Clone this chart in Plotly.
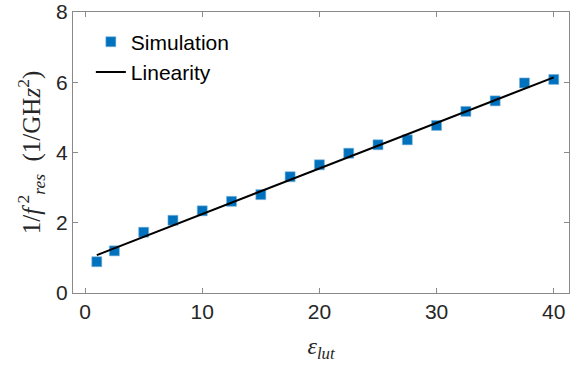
import plotly.graph_objects as go

# Simulated resonance data: 1/f_res^2 versus epsilon_lut
eps_lut = [1, 2.5, 5, 7.5, 10, 12.5, 15, 17.5, 20, 22.5, 25, 27.5, 30, 32.5, 35, 37.5, 40]
inv_f2 = [0.89, 1.20, 1.73, 2.07, 2.34, 2.61, 2.80, 3.31, 3.65, 3.98, 4.22, 4.36, 4.77, 5.17, 5.47, 5.98, 6.08]

# Linear trend line end points
lin_x = [1, 40]
lin_y = [1.08, 6.14]

x_ticks = [0, 10, 20, 30, 40]
y_ticks = [0, 2, 4, 6, 8]

blue = "#0072BD"
axis_gray = "#8a8a8a"
label_dark = "#262626"
sans = "Liberation Sans, Arial, sans-serif"
serif = "Liberation Serif, Times New Roman, serif"

fig = go.Figure()
fig.add_trace(go.Scatter(
    x=eps_lut, y=inv_f2, mode="markers", name="Simulation",
    marker=dict(symbol="square", size=10, color=blue,
                line=dict(width=0.6, color="#7fb6dc")),
))
fig.add_trace(go.Scatter(
    x=lin_x, y=lin_y, mode="lines", name="Linearity",
    line=dict(color="black", width=2),
))

axis_common = dict(
    showline=True, linecolor=axis_gray, linewidth=1.2, mirror="ticks",
    ticks="inside", ticklen=5, tickcolor=axis_gray, tickwidth=1,
    showgrid=False, zeroline=False,
    tickfont=dict(family=sans, size=21, color=label_dark),
)

fig.update_layout(
    width=585, height=370,
    margin=dict(l=73, r=16, t=12, b=77, autoexpand=False),
    paper_bgcolor="white", plot_bgcolor="white",
    xaxis=dict(range=[-1.03, 41.3], tickvals=x_ticks,
               title=dict(text="<i>ε</i><sub><i>lut</i></sub>",
                          font=dict(family=serif, size=24, color=label_dark),
                          standoff=14),
               **axis_common),
    yaxis=dict(range=[0, 8], tickvals=y_ticks,
               title=dict(text="1/<i>f</i><sup> 2</sup><sub><i>res</i></sub>  (1/GH<i>z</i><sup>2</sup>)",
                          font=dict(family=serif, size=25, color=label_dark),
                          standoff=8),
               **axis_common),
    legend=dict(x=0.036, y=0.966, xanchor="left", yanchor="top",
                bgcolor="rgba(0,0,0,0)",
                font=dict(family=sans, size=21, color="black")),
)

fig.write_html("out.html")
